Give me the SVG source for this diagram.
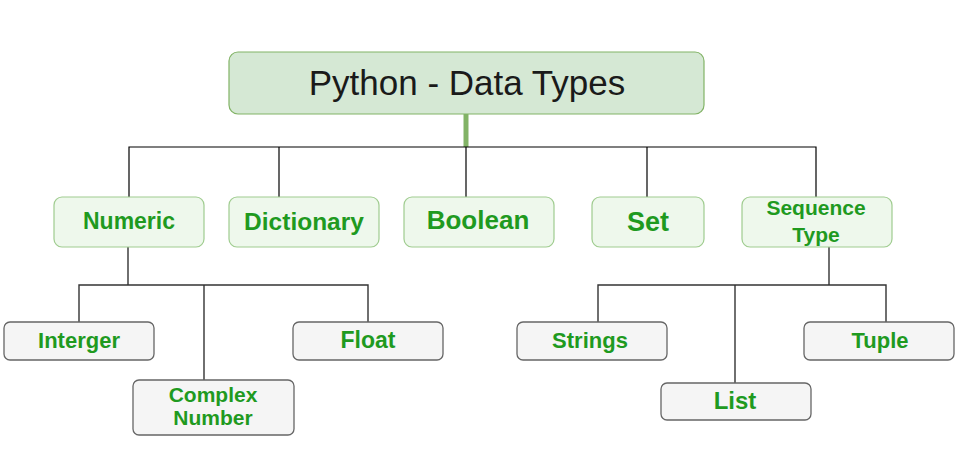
<svg xmlns="http://www.w3.org/2000/svg" width="957" height="472" viewBox="0 0 957 472">
<style>
.root{fill:#d5e8d4;stroke:#82b366;stroke-width:1.2}
.mid{fill:#eef8ec;stroke:#9fcc8f;stroke-width:1.2}
.leaf{fill:#f5f5f5;stroke:#666666;stroke-width:1.3}
.t{font-family:"Liberation Sans",Arial,sans-serif;font-weight:bold;fill:#1f9a1f;text-anchor:middle}
.title{font-family:"Liberation Sans",Arial,sans-serif;fill:#1a1a1a;text-anchor:middle;font-size:35px}
.c{fill:none;stroke:#000;stroke-width:1.2}
.c2{fill:none;stroke:#333;stroke-width:1.4}
</style>
<rect width="957" height="472" fill="#ffffff"/>
<g id="connectors">
<line x1="466" y1="114" x2="466" y2="147" stroke="#82b366" stroke-width="5"/>
<polyline class="c" points="129,197 129,147 816,147 816,197"/>
<line class="c" x1="279" y1="147" x2="279" y2="197"/>
<line class="c" x1="466" y1="147" x2="466" y2="197"/>
<line class="c" x1="647" y1="147" x2="647" y2="197"/>
<line class="c2" x1="128" y1="247" x2="128" y2="285"/>
<polyline class="c2" points="79,322 79,285 368,285 368,322"/>
<line class="c2" x1="204" y1="285" x2="204" y2="380"/>
<line class="c2" x1="829" y1="247" x2="829" y2="285"/>
<polyline class="c2" points="598,322 598,285 886,285 886,322"/>
<line class="c2" x1="735" y1="285" x2="735" y2="383"/>
</g>
<g id="root"><rect class="root" x="229" y="52" width="475" height="62" rx="9"/><text class="title" x="467" y="95">Python - Data Types</text></g>
<g id="numeric"><rect class="mid" x="54" y="197" width="150" height="50" rx="8"/><text class="t" x="129" y="229" font-size="23">Numeric</text></g>
<g id="dictionary"><rect class="mid" x="229" y="197" width="150" height="50" rx="8"/><text class="t" x="304" y="230" font-size="24.5">Dictionary</text></g>
<g id="boolean"><rect class="mid" x="404" y="197" width="150" height="50" rx="8"/><text class="t" x="478" y="229" font-size="26">Boolean</text></g>
<g id="set"><rect class="mid" x="592" y="197" width="112" height="50" rx="8"/><text class="t" x="648" y="231" font-size="27">Set</text></g>
<g id="sequence"><rect class="mid" x="742" y="197" width="150" height="50" rx="8"/><text class="t" x="816" y="215" font-size="21">Sequence</text><text class="t" x="816" y="242" font-size="21">Type</text></g>
<g id="interger"><rect class="leaf" x="4" y="322" width="150" height="38" rx="6"/><text class="t" x="79" y="348" font-size="22">Interger</text></g>
<g id="complex"><rect class="leaf" x="133" y="380" width="161" height="55" rx="6"/><text class="t" x="213" y="402" font-size="21">Complex</text><text class="t" x="213" y="425" font-size="21">Number</text></g>
<g id="float"><rect class="leaf" x="293" y="322" width="150" height="38" rx="6"/><text class="t" x="368" y="348" font-size="23">Float</text></g>
<g id="strings"><rect class="leaf" x="517" y="322" width="150" height="38" rx="6"/><text class="t" x="590" y="348" font-size="22">Strings</text></g>
<g id="list"><rect class="leaf" x="661" y="383" width="150" height="37" rx="6"/><text class="t" x="735" y="409" font-size="24">List</text></g>
<g id="tuple"><rect class="leaf" x="804" y="322" width="150" height="38" rx="6"/><text class="t" x="880" y="348" font-size="22">Tuple</text></g>
</svg>
